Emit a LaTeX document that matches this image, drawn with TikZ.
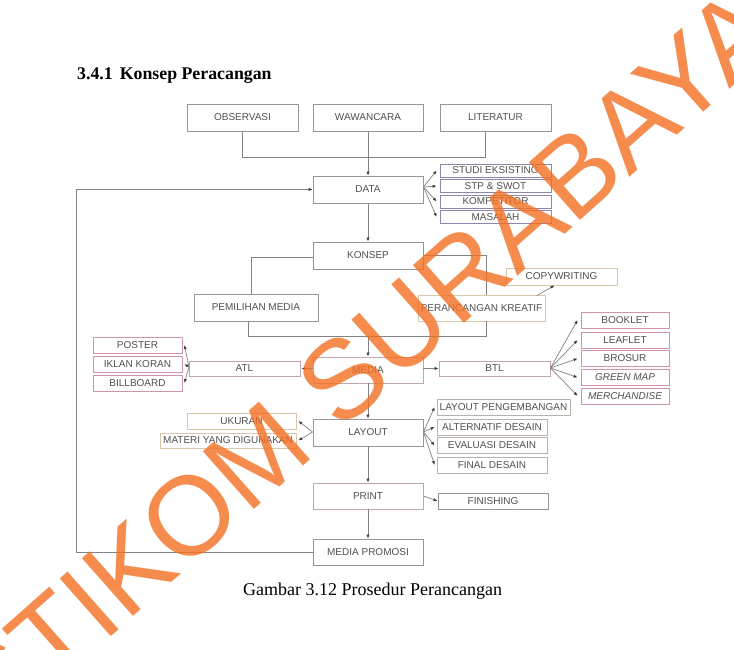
\documentclass[tikz,border=0pt]{standalone}
\usepackage{fontspec}
\setmainfont{Liberation Serif}
\newfontfamily\boxfont{Liberation Sans}
\usetikzlibrary{arrows.meta}
\definecolor{boxgrey}{RGB}{150,150,150}
\definecolor{txtgrey}{RGB}{80,80,80}
\definecolor{linegrey}{RGB}{130,130,130}
\definecolor{arrgrey}{RGB}{60,60,60}
\definecolor{purpleb}{RGB}{140,134,176}
\definecolor{tanb}{RGB}{215,200,170}
\definecolor{tangrey}{RGB}{185,178,170}
\definecolor{pinkgrey}{RGB}{195,165,172}
\definecolor{pinkb}{RGB}{208,150,165}
\definecolor{wmorange}{RGB}{243,112,33}
\tikzset{
  box/.style={draw=boxgrey, line width=0.8pt, fill=white, inner sep=0pt,
    minimum width=110pt, minimum height=27pt,
    font=\boxfont\fontsize{10}{12}\selectfont, text=txtgrey},
  smallbox/.style={box, minimum height=16pt},
  conn/.style={draw=linegrey, line width=0.7pt},
  arr/.style={conn, -{Latex[length=4pt,width=3.2pt,color=arrgrey]}}
}
\begin{document}
\begin{tikzpicture}[x=1pt,y=-1pt]
\useasboundingbox (0,0) rectangle (734,649);
\fill[white] (0,0) rectangle (734,649);

% heading and caption
\node[anchor=base west, inner sep=0pt, font=\bfseries\fontsize{17.8}{20}\selectfont] (head) at (77,79) {3.4.1\hspace{7pt}Konsep Peracangan};
\node[anchor=base west, inner sep=0pt, font=\fontsize{18}{20}\selectfont] (cap) at (243,595) {Gambar 3.12 Prosedur Perancangan};

% top row
\node[box, minimum width=111pt] (obs) at (242.5,117.5) {OBSERVASI};
\node[box] (waw) at (368,117.5) {WAWANCARA};
\node[box, minimum width=111pt] (lit) at (495.5,117.5) {LITERATUR};

% data
\node[box] (data) at (368,189.5) {DATA};
\node[smallbox, draw=purpleb, minimum width=111pt, minimum height=13pt] (s1) at (495.5,170.5) {STUDI EKSISTING};
\node[smallbox, draw=purpleb, minimum width=111pt, minimum height=13pt] (s2) at (495.5,186) {STP \& SWOT};
\node[smallbox, draw=purpleb, minimum width=111pt, minimum height=13pt] (s3) at (495.5,201.5) {KOMPETITOR};
\node[smallbox, draw=purpleb, minimum width=111pt, minimum height=13pt] (s4) at (495.5,217) {MASALAH};

% konsep
\node[box] (konsep) at (368,255.5) {KONSEP};
\node[box, minimum width=124pt] (pem) at (256,307.5) {PEMILIHAN MEDIA};
\node[box, draw=tanb, minimum width=127pt, minimum height=26pt] (per) at (481.5,308) {PERANCANGAN KREATIF};
\node[smallbox, draw=tanb, minimum width=111pt, minimum height=17pt] (copy) at (561.5,276.5) {COPYWRITING};

% media
\node[box, draw=pinkgrey, minimum height=26pt] (media) at (368,370) {MEDIA};
\node[smallbox, draw=pinkgrey, minimum width=111pt, minimum height=15pt] (atl) at (244.5,368.5) {ATL};
\node[smallbox, draw=pinkb, minimum width=89pt] (poster) at (137.5,345) {POSTER};
\node[smallbox, draw=pinkb, minimum width=89pt] (iklan) at (137.5,364) {IKLAN KORAN};
\node[smallbox, draw=pinkb, minimum width=89pt] (bill) at (137.5,383) {BILLBOARD};
\node[smallbox, draw=pinkgrey, minimum width=111pt, minimum height=15pt] (btl) at (494.5,368.5) {BTL};
\node[smallbox, draw=pinkb, minimum width=88pt] (b1) at (625,320) {BOOKLET};
\node[smallbox, draw=pinkb, minimum width=88pt] (b2) at (625,340) {LEAFLET};
\node[smallbox, draw=pinkb, minimum width=88pt] (b3) at (625,358.5) {BROSUR};
\node[smallbox, draw=pinkb, minimum width=88pt, font=\boxfont\itshape\fontsize{10}{12}\selectfont] (b4) at (625,377.5) {GREEN MAP};
\node[smallbox, draw=pinkb, minimum width=88pt, font=\boxfont\itshape\fontsize{10}{12}\selectfont] (b5) at (625,396) {MERCHANDISE};

% layout
\node[box] (layout) at (368,432.5) {LAYOUT};
\node[smallbox, draw=tanb, minimum width=109pt] (uk) at (241.5,421) {UKURAN};
\node[smallbox, draw=tanb, minimum width=136pt, minimum height=15pt] (mat) at (228,440.5) {MATERI YANG DIGUNAKAN};
\node[smallbox, draw=tangrey, minimum width=133pt] (l1) at (503.5,407) {LAYOUT PENGEMBANGAN};
\node[smallbox, draw=tangrey] (l2) at (492,427) {ALTERNATIF DESAIN};
\node[smallbox, draw=tangrey] (l3) at (492,445.5) {EVALUASI DESAIN};
\node[smallbox, draw=tangrey] (l4) at (492,465) {FINAL DESAIN};

% print
\node[box, draw=pinkgrey, minimum height=26pt] (print) at (368,496) {PRINT};
\node[smallbox] (fin) at (493,501) {FINISHING};
\node[box, minimum height=26pt] (mp) at (368,552) {MEDIA PROMOSI};

% coordinates
\coordinate (j1) at (242.5,157);
\coordinate (j2) at (485,157);
\coordinate (litb) at (485,131);
\coordinate (k1) at (251,257);
\coordinate (k2) at (486,255);
\coordinate (j4) at (248,336);
\coordinate (j5) at (486,336);
\coordinate (j6) at (368,336);
\coordinate (cw) at (537,295.6);
\coordinate (fanD) at (423.5,187);
\coordinate (fanB) at (550.5,368);
\coordinate (fanL) at (423.5,432);
\coordinate (fanA) at (189,367);
\coordinate (fanU) at (312.5,432);
\coordinate (lp1) at (76,552);
\coordinate (lp2) at (76,189.5);

% connectors top
\draw[conn] (obs.south) -- (j1) -- (j2) -- (litb);
\draw[arr] (waw.south) -- (data.north);
\draw[arr] (data.south) -- (konsep.north);
\draw[arr] (fanD) -- ([xshift=-3pt]s1.west);
\draw[arr] (fanD) -- ([xshift=-3pt]s2.west);
\draw[arr] (fanD) -- ([xshift=-3pt]s3.west);
\draw[arr] (fanD) -- ([xshift=-3pt]s4.west);

% konsep
\draw[conn] (konsep.west |- k1) -- (k1) -- (k1 |- pem.north);
\draw[conn] (konsep.east |- k2) -- (k2) -- (k2 |- per.north);
\draw[arr] (cw) -- ([xshift=-7pt]copy.south);
\draw[conn] (j4 |- pem.south) -- (j4) -- (j5) -- (j5 |- per.south);
\draw[arr] (j6) -- (media.north);

% media
\draw[arr] (media.west |- atl.east) -- ([xshift=1pt]atl.east);
\draw[arr] (fanA) -- ([xshift=2pt]poster.east);
\draw[arr] (fanA) -- ([xshift=2pt]iklan.east);
\draw[arr] (fanA) -- ([xshift=2pt]bill.east);
\draw[arr] (media.east |- btl.west) -- (btl.west);
\draw[arr] (fanB) -- ([xshift=-3pt]b1.west);
\draw[arr] (fanB) -- ([xshift=-3pt]b2.west);
\draw[arr] (fanB) -- ([xshift=-3pt]b3.west);
\draw[arr] (fanB) -- ([xshift=-3pt]b4.west);
\draw[arr] (fanB) -- ([xshift=-3pt]b5.west);

% layout
\draw[arr] (media.south) -- (layout.north);
\draw[arr] (fanU) -- ([xshift=2pt]uk.east);
\draw[arr] (fanU) -- ([xshift=2pt]mat.east);
\draw[arr] (fanL) -- ([xshift=-2pt]l1.west);
\draw[arr] (fanL) -- ([xshift=-2pt]l2.west);
\draw[arr] (fanL) -- ([xshift=-2pt]l3.west);
\draw[arr] (fanL) -- ([xshift=-2pt]l4.west);

% print
\draw[arr] (layout.south) -- (print.north);
\draw[arr] (print.east) -- (fin.west);
\draw[arr] (print.south) -- (mp.north);
\draw[arr] (mp.west) -- (lp1) -- (lp2) -- (data.west);

% watermark
\node[rotate=41.5, inner sep=0pt, text=wmorange, opacity=0.8, font=\boxfont\fontsize{112}{112}\selectfont] (wm) at (365,360) {STIKOM SURABAYA};
\end{tikzpicture}
\end{document}
